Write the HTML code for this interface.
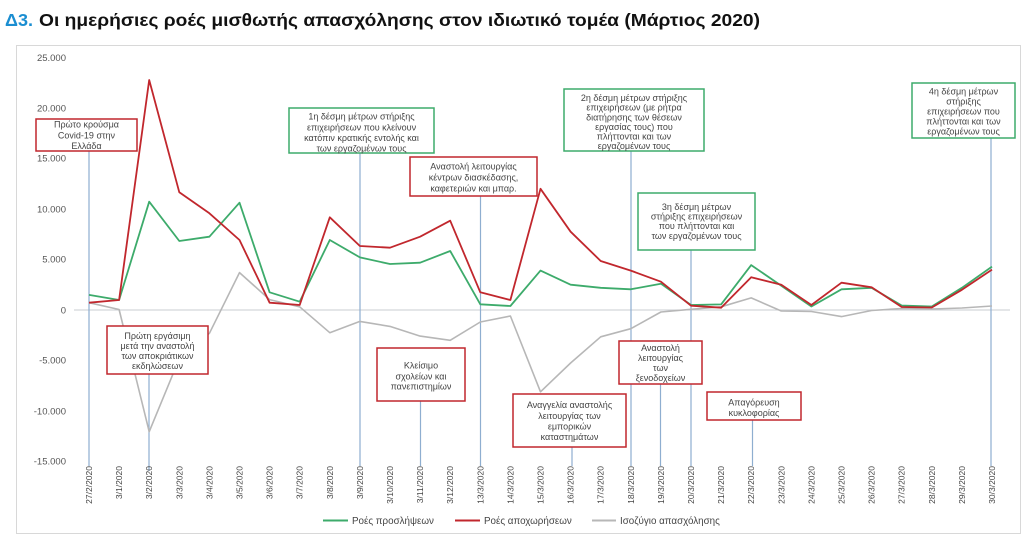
<!DOCTYPE html>
<html>
<head>
<meta charset="utf-8">
<style>
html,body{margin:0;padding:0;background:#fff;}
svg{display:block;}
text{font-family:"Liberation Sans","DejaVu Sans",sans-serif;}
</style>
</head>
<body>
<svg width="1024" height="539" viewBox="0 0 1024 539" xmlns="http://www.w3.org/2000/svg">
<rect x="0" y="0" width="1024" height="539" fill="#fff"/>
<!-- Title -->
<text x="5" y="26" font-size="17.5" font-weight="bold" fill="#1b8ed1" textLength="28" lengthAdjust="spacingAndGlyphs">Δ3.</text>
<text x="39" y="26" font-size="17.5" font-weight="bold" fill="#111" textLength="721" lengthAdjust="spacingAndGlyphs">Οι ημερήσιες ροές μισθωτής απασχόλησης στον ιδιωτικό τομέα (Μάρτιος 2020)</text>

<!-- Chart border -->
<rect x="16.5" y="45.5" width="1004" height="488" fill="none" stroke="#d8d8d8" stroke-width="1"/>

<!-- Y axis labels -->
<g font-size="9.5" fill="#555" text-anchor="end">
<text x="66" y="61">25.000</text>
<text x="66" y="111.5">20.000</text>
<text x="66" y="161.5">15.000</text>
<text x="66" y="212.5">10.000</text>
<text x="66" y="262.5">5.000</text>
<text x="66" y="313.5">0</text>
<text x="66" y="363.5">-5.000</text>
<text x="66" y="414.5">-10.000</text>
<text x="66" y="464.5">-15.000</text>
</g>

<!-- zero line -->
<line x1="74" y1="310" x2="1010" y2="310" stroke="#c9ccd2" stroke-width="1"/>

<!-- vertical annotation lines -->
<g stroke="#8eaed0" stroke-width="1.2">
<line x1="89" y1="151" x2="89" y2="466"/>
<line x1="149" y1="374" x2="149" y2="471"/>
<line x1="360" y1="153" x2="360" y2="466"/>
<line x1="420.5" y1="401" x2="420.5" y2="466"/>
<line x1="480.5" y1="196" x2="480.5" y2="466"/>
<line x1="572" y1="447" x2="572" y2="466"/>
<line x1="631" y1="151" x2="631" y2="466"/>
<line x1="660.5" y1="384" x2="660.5" y2="466"/>
<line x1="691" y1="250" x2="691" y2="466"/>
<line x1="752.5" y1="420" x2="752.5" y2="466"/>
<line x1="991" y1="138" x2="991" y2="466"/>
</g>

<!-- series -->
<polyline fill="none" stroke="#b7b7b7" stroke-width="1.6" stroke-linejoin="round" points="89,302.7 119.1,309.5 149.2,431.7 179.3,358.7 209.4,333.3 239.5,272.6 269.6,299.6 299.7,306.8 329.8,332.7 359.9,321.4 390,326.4 420.1,336.1 450.2,340.3 480.3,322 510.4,316 540.5,391.8 570.6,363 600.7,336.8 630.8,328.7 660.9,312 691,309.3 721.1,306.8 751.2,297.9 781.3,311 811.4,311.5 841.5,316.6 871.6,310.5 901.7,308.5 931.8,309 961.9,308 992,306"/>
<polyline fill="none" stroke="#3dab6b" stroke-width="1.8" stroke-linejoin="round" points="89,294.9 119.1,300 149.2,201.7 179.3,241 209.4,236.7 239.5,202.7 269.6,292.3 299.7,301.7 329.8,240 359.9,257.4 390,264 420.1,262.7 450.2,251 480.3,304.3 510.4,306 540.5,270.6 570.6,284.7 600.7,287.8 630.8,289.3 660.9,283.7 691,305 721.1,304.4 751.2,265.1 781.3,285.8 811.4,306.5 841.5,289.3 871.6,287.8 901.7,305.5 931.8,306.5 961.9,287.8 992,266.6"/>
<polyline fill="none" stroke="#c1272d" stroke-width="1.8" stroke-linejoin="round" points="89,302.7 119.1,300 149.2,80 179.3,192.3 209.4,213.3 239.5,240 269.6,302.7 299.7,305 329.8,217.3 359.9,246 390,247.7 420.1,236.7 450.2,220.7 480.3,292.3 510.4,300 540.5,188.8 570.6,231.7 600.7,261 630.8,270.6 660.9,281.7 691,305.7 721.1,307.7 751.2,277.2 781.3,284.8 811.4,305 841.5,282.7 871.6,287.3 901.7,307 931.8,307.5 961.9,289.8 992,269.6"/>

<!-- annotation boxes -->
<g font-size="9" fill="#444" text-anchor="middle">
<!-- Box 1 -->
<rect x="36" y="119" width="101" height="32" fill="#fff" stroke="#c1272d" stroke-width="1.5"/>
<text x="86.5" y="127.5">Πρώτο κρούσμα</text>
<text x="86.5" y="138.5">Covid-19 στην</text>
<text x="86.5" y="149">Ελλάδα</text>

<!-- Box 2 -->
<rect x="289" y="108" width="145" height="45" fill="#fff" stroke="#3dab6b" stroke-width="1.5"/>
<text x="361.5" y="119.5">1η δέσμη μέτρων στήριξης</text>
<text x="361.5" y="130.5">επιχειρήσεων που κλείνουν</text>
<text x="361.5" y="141">κατόπιν κρατικής εντολής και</text>
<text x="361.5" y="151.5">των εργαζομένων τους</text>

<!-- Box 3 -->
<rect x="410" y="157" width="127" height="39" fill="#fff" stroke="#c1272d" stroke-width="1.5"/>
<text x="473.5" y="169.5">Αναστολή λειτουργίας</text>
<text x="473.5" y="180.5">κέντρων διασκέδασης,</text>
<text x="473.5" y="191.5">καφετεριών και μπαρ.</text>

<!-- Box 4 -->
<rect x="564" y="89" width="140" height="62" fill="#fff" stroke="#3dab6b" stroke-width="1.5"/>
<text x="634" y="101">2η δέσμη μέτρων στήριξης</text>
<text x="634" y="110.7">επιχειρήσεων (με ρήτρα</text>
<text x="634" y="120.4">διατήρησης των θέσεων</text>
<text x="634" y="130">εργασίας τους) που</text>
<text x="634" y="139.5">πλήττονται και των</text>
<text x="634" y="149">εργαζομένων τους</text>

<!-- Box 5 -->
<rect x="912" y="83" width="103" height="55" fill="#fff" stroke="#3dab6b" stroke-width="1.5"/>
<text x="963.5" y="94.5">4η δέσμη μέτρων</text>
<text x="963.5" y="104.5">στήριξης</text>
<text x="963.5" y="114.5">επιχειρήσεων που</text>
<text x="963.5" y="124.3">πλήττονται και των</text>
<text x="963.5" y="134.3">εργαζομένων τους</text>

<!-- Box 6 -->
<rect x="638" y="193" width="117" height="57" fill="#fff" stroke="#3dab6b" stroke-width="1.5"/>
<text x="696.5" y="210">3η δέσμη μέτρων</text>
<text x="696.5" y="219.5">στήριξης επιχειρήσεων</text>
<text x="696.5" y="229">που πλήττονται και</text>
<text x="696.5" y="239">των εργαζομένων τους</text>

<!-- Box 7 -->
<rect x="107" y="326" width="101" height="48" fill="#fff" stroke="#c1272d" stroke-width="1.5"/>
<text x="157.5" y="339">Πρώτη εργάσιμη</text>
<text x="157.5" y="349">μετά την αναστολή</text>
<text x="157.5" y="359">των αποκριάτικων</text>
<text x="157.5" y="369">εκδηλώσεων</text>

<!-- Box 8 -->
<rect x="377" y="348" width="88" height="53" fill="#fff" stroke="#c1272d" stroke-width="1.5"/>
<text x="421" y="368.5">Κλείσιμο</text>
<text x="421" y="379.5">σχολείων και</text>
<text x="421" y="389.5">πανεπιστημίων</text>

<!-- Box 9 -->
<rect x="619" y="341" width="83" height="43" fill="#fff" stroke="#c1272d" stroke-width="1.5"/>
<text x="660.5" y="351">Αναστολή</text>
<text x="660.5" y="361">λειτουργίας</text>
<text x="660.5" y="371">των</text>
<text x="660.5" y="381">ξενοδοχείων</text>

<!-- Box 10 -->
<rect x="513" y="394" width="113" height="53" fill="#fff" stroke="#c1272d" stroke-width="1.5"/>
<text x="569.5" y="408">Αναγγελία αναστολής</text>
<text x="569.5" y="419">λειτουργίας των</text>
<text x="569.5" y="429.5">εμπορικών</text>
<text x="569.5" y="440">καταστημάτων</text>

<!-- Box 11 -->
<rect x="707" y="392" width="94" height="28" fill="#fff" stroke="#c1272d" stroke-width="1.5"/>
<text x="754" y="405.5">Απαγόρευση</text>
<text x="754" y="416">κυκλοφορίας</text>
</g>

<!-- X labels -->
<g font-size="8.5" fill="#444" text-anchor="end">
<text transform="translate(92,466) rotate(-90)">27/2/2020</text>
<text transform="translate(122.1,466) rotate(-90)">3/1/2020</text>
<text transform="translate(152.2,466) rotate(-90)">3/2/2020</text>
<text transform="translate(182.3,466) rotate(-90)">3/3/2020</text>
<text transform="translate(212.4,466) rotate(-90)">3/4/2020</text>
<text transform="translate(242.5,466) rotate(-90)">3/5/2020</text>
<text transform="translate(272.6,466) rotate(-90)">3/6/2020</text>
<text transform="translate(302.7,466) rotate(-90)">3/7/2020</text>
<text transform="translate(332.8,466) rotate(-90)">3/8/2020</text>
<text transform="translate(362.9,466) rotate(-90)">3/9/2020</text>
<text transform="translate(393,466) rotate(-90)">3/10/2020</text>
<text transform="translate(423.1,466) rotate(-90)">3/11/2020</text>
<text transform="translate(453.2,466) rotate(-90)">3/12/2020</text>
<text transform="translate(483.3,466) rotate(-90)">13/3/2020</text>
<text transform="translate(513.4,466) rotate(-90)">14/3/2020</text>
<text transform="translate(543.5,466) rotate(-90)">15/3/2020</text>
<text transform="translate(573.6,466) rotate(-90)">16/3/2020</text>
<text transform="translate(603.7,466) rotate(-90)">17/3/2020</text>
<text transform="translate(633.8,466) rotate(-90)">18/3/2020</text>
<text transform="translate(663.9,466) rotate(-90)">19/3/2020</text>
<text transform="translate(694,466) rotate(-90)">20/3/2020</text>
<text transform="translate(724.1,466) rotate(-90)">21/3/2020</text>
<text transform="translate(754.2,466) rotate(-90)">22/3/2020</text>
<text transform="translate(784.3,466) rotate(-90)">23/3/2020</text>
<text transform="translate(814.4,466) rotate(-90)">24/3/2020</text>
<text transform="translate(844.5,466) rotate(-90)">25/3/2020</text>
<text transform="translate(874.6,466) rotate(-90)">26/3/2020</text>
<text transform="translate(904.7,466) rotate(-90)">27/3/2020</text>
<text transform="translate(934.8,466) rotate(-90)">28/3/2020</text>
<text transform="translate(964.9,466) rotate(-90)">29/3/2020</text>
<text transform="translate(995,466) rotate(-90)">30/3/2020</text>
</g>

<!-- Legend -->
<line x1="323" y1="520.5" x2="348" y2="520.5" stroke="#3dab6b" stroke-width="2"/>
<text x="352" y="524" font-size="9.8" fill="#444">Ροές προσλήψεων</text>
<line x1="455" y1="520.5" x2="480" y2="520.5" stroke="#c1272d" stroke-width="2"/>
<text x="484" y="524" font-size="9.8" fill="#444">Ροές αποχωρήσεων</text>
<line x1="592" y1="520.5" x2="616" y2="520.5" stroke="#b7b7b7" stroke-width="2"/>
<text x="620" y="524" font-size="9.8" fill="#444">Ισοζύγιο απασχόλησης</text>
</svg>
</body>
</html>
